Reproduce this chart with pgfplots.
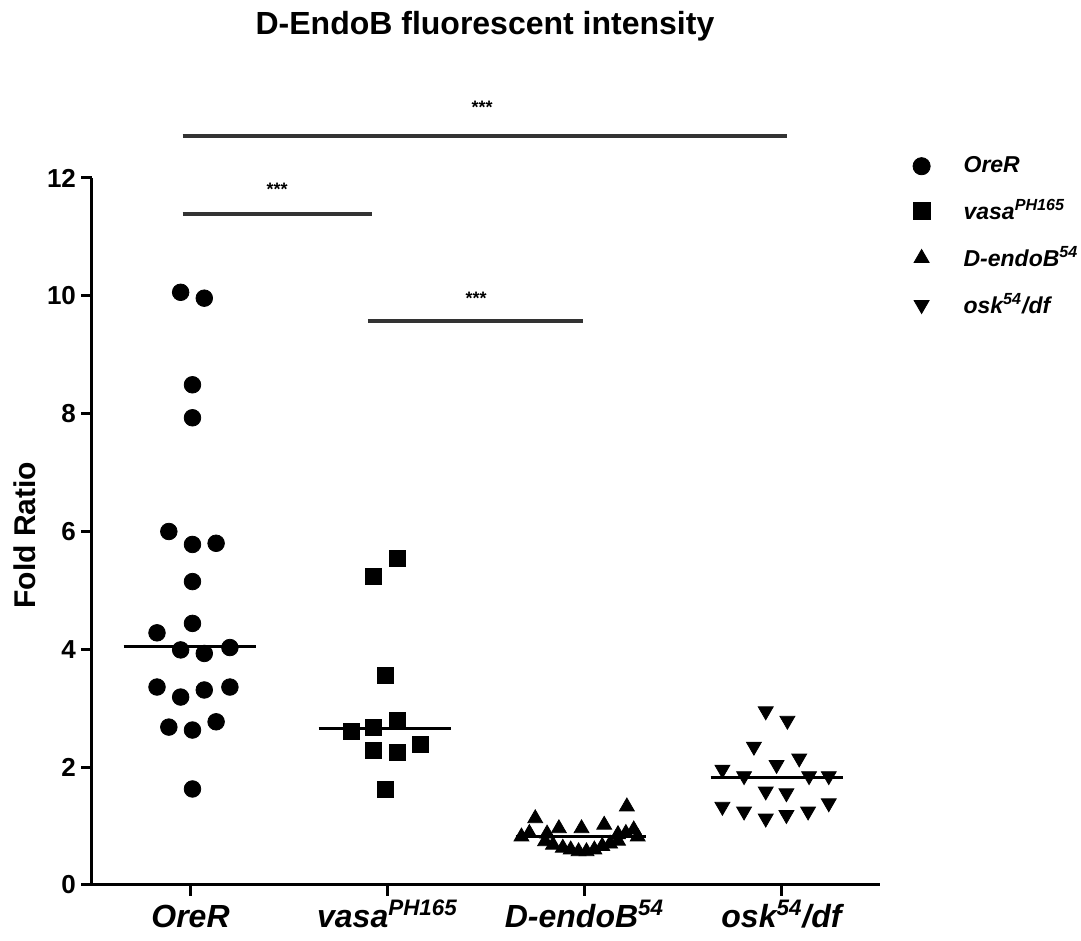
\documentclass[border=0pt]{standalone}
\usepackage{pgfplots}
\pgfplotsset{compat=1.18}
\usepackage{fontspec}
\setmainfont{Liberation Sans}

% legend entry: mark alone, with room after it
\pgfplotsset{dotleg/.style={legend image code/.code={\draw[##1, mark size=4.3pt] plot coordinates {(0pt,0pt)}; \path[draw=none, fill=none] (-5pt,0pt) -- (19pt,0pt);}}}

\begin{document}
\begin{tikzpicture}
\path[use as bounding box] (-46pt,-28pt) rectangle (494.5pt,442.5pt);
\begin{axis}[
  at={(0pt,0pt)}, anchor=south west,
  scale only axis, width=394pt, height=353.5pt,
  xmin=-0.5, xmax=3.5, ymin=0, ymax=12,
  axis lines*=left,
  axis line style={line width=1.5pt, black},
  clip=false,
  xtick={0,1,2,3},
  xticklabels={OreR, vasa\textsuperscript{PH165}, D-endoB\textsuperscript{54}, osk\textsuperscript{54}/df},
  ytick={0,2,4,6,8,10,12},
  tick align=outside,
  major tick length=5.5pt,
  tick style={line width=1.5pt, black},
  /pgf/number format/assume math mode=true,
  yticklabel style={font=\fontsize{13}{13}\selectfont\bfseries, xshift=1pt},
  xticklabel style={font=\fontsize{16}{16}\selectfont\bfseries\itshape, anchor=base, yshift=-16pt},
  ylabel={Fold Ratio},
  every axis y label/.style={at={(axis description cs:-0.085,0.495)}, rotate=90, anchor=center, font=\fontsize{15}{15}\selectfont\bfseries},
  legend style={at={(1.032,1.042)}, anchor=north west, draw=none, fill=none,
    font=\fontsize{11.5}{11.5}\selectfont\bfseries\itshape, row sep=8pt,
    legend cell align=left},
]
% OreR
\addplot[only marks, mark=*, mark size=4.15pt, black, dotleg] coordinates {
(-0.05,10.06) (0.07,9.96) (0.01,8.49) (0.01,7.93) (-0.11,6.00) (0.01,5.78)
(0.13,5.80) (0.01,5.15) (0.01,4.44) (-0.17,4.28) (-0.05,3.99) (0.07,3.93)
(0.20,4.03) (-0.17,3.36) (-0.05,3.19) (0.07,3.31) (0.20,3.36) (-0.11,2.68)
(0.01,2.63) (0.13,2.77) (0.01,1.63)};
\addlegendentry{OreR}
% vasa PH165
\addplot[only marks, mark=square*, mark size=4pt, black, dotleg] coordinates {
(1.05,5.54) (0.93,5.24) (0.99,3.55) (1.05,2.79) (0.815,2.61) (0.93,2.68)
(0.93,2.28) (1.05,2.25) (1.165,2.38) (0.99,1.62)};
\addlegendentry{vasa\textsuperscript{PH165}}
% D-endoB 54
\addplot[only marks, mark=triangle*, mark size=4.3pt, black, dotleg] coordinates {
(1.75,1.13) (1.87,0.96) (1.985,0.96) (2.10,1.02) (2.215,1.33) (2.25,0.94)
(1.72,0.88) (1.81,0.87) (2.17,0.86) (2.21,0.88) (1.68,0.82) (1.80,0.74)
(1.84,0.68) (1.89,0.63) (1.93,0.60) (1.97,0.57) (2.01,0.57) (2.05,0.60)
(2.09,0.66) (2.13,0.70) (2.17,0.75) (2.27,0.82)};
\addlegendentry{D-endoB\textsuperscript{54}}
% osk 54 / df
\addplot[only marks, mark=triangle*, mark size=4.3pt, mark options={rotate=180}, black, dotleg] coordinates {
(2.92,2.95) (3.03,2.79) (2.86,2.35) (3.09,2.15) (2.975,2.04) (2.70,1.96)
(2.81,1.85) (3.14,1.85) (3.24,1.85) (2.92,1.59) (3.025,1.56) (2.70,1.33)
(3.24,1.39) (2.81,1.25) (2.92,1.13) (3.025,1.19) (3.135,1.25)};
\addlegendentry{osk\textsuperscript{54}/df}
% medians
\addplot[black, line width=1.5pt, forget plot] coordinates {(-0.34,4.05) (0.33,4.05)};
\addplot[black, line width=1.5pt, forget plot] coordinates {(0.65,2.65) (1.32,2.65)};
\addplot[black, line width=1.5pt, forget plot] coordinates {(1.65,0.82) (2.31,0.82)};
\addplot[black, line width=1.5pt, forget plot] coordinates {(2.64,1.83) (3.31,1.83)};
% significance bars
\addplot[black!80, line width=2pt, forget plot] coordinates {(-0.04,12.71) (3.03,12.71)};
\addplot[black!80, line width=2pt, forget plot] coordinates {(-0.04,11.39) (0.92,11.39)};
\addplot[black!80, line width=2pt, forget plot] coordinates {(0.90,9.57) (1.99,9.57)};
\node[font=\fontsize{9}{9}\selectfont\bfseries] at (axis cs:1.48,13.2) {***};
\node[font=\fontsize{9}{9}\selectfont\bfseries] at (axis cs:0.44,11.8) {***};
\node[font=\fontsize{9}{9}\selectfont\bfseries] at (axis cs:1.45,9.96) {***};
% title
\node[font=\fontsize{16}{16}\selectfont\bfseries, anchor=base] at (rel axis cs:0.4987,1.203) {D-EndoB fluorescent intensity};
\end{axis}
\end{tikzpicture}
\end{document}
